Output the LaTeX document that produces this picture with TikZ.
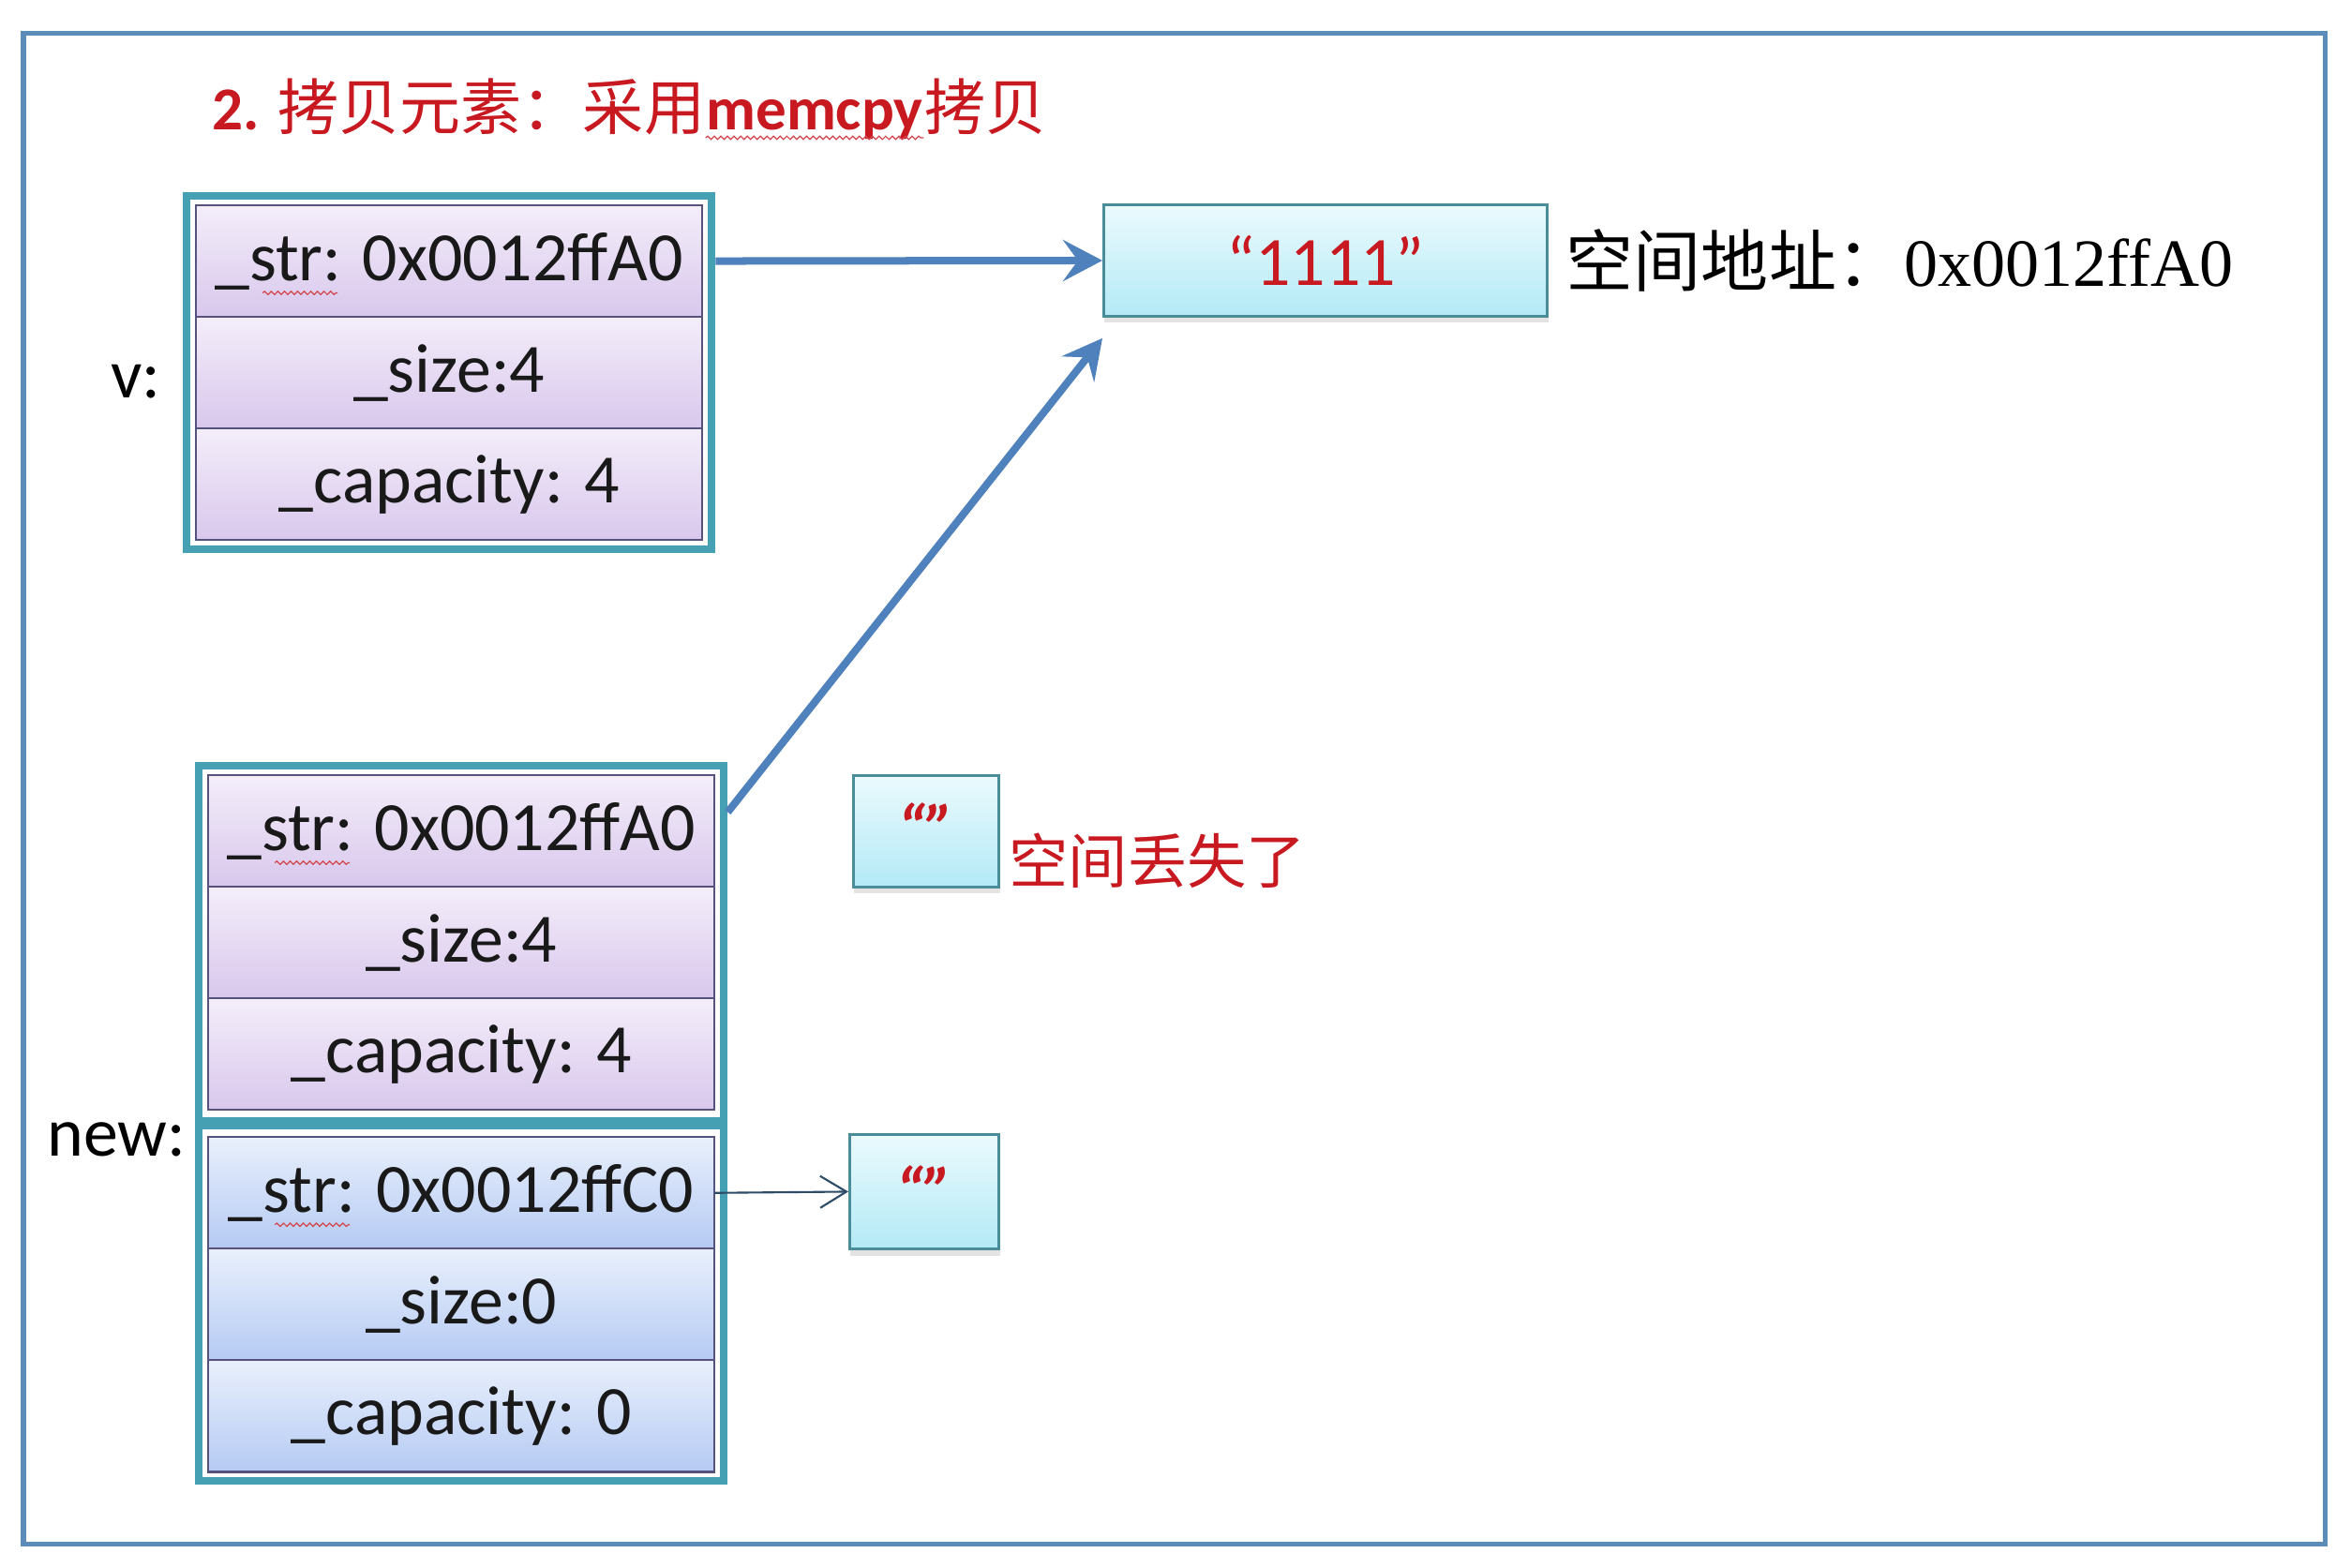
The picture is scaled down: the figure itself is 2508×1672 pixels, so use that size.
\documentclass[tikz,border=0pt]{standalone}
\usepackage{fontspec}
\setmainfont{Carlito}
\newfontfamily\cjk{Noto Sans CJK SC}
\newfontfamily\addrlatin{Liberation Serif}
\usetikzlibrary{arrows.meta, positioning, calc, fit, shadows, decorations.pathmorphing}
\definecolor{framebl}{HTML}{5B8DB8}
\definecolor{tealedge}{HTML}{45A0B4}
\definecolor{rowedge}{HTML}{55527E}
\definecolor{lavtop}{HTML}{F4EEFA}
\definecolor{lavbot}{HTML}{D8C7EC}
\definecolor{blutop}{HTML}{E9F0FC}
\definecolor{blubot}{HTML}{B5CAF3}
\definecolor{cyantop}{HTML}{EBFAFD}
\definecolor{cyanbot}{HTML}{B3EAF6}
\definecolor{cyanedge}{HTML}{4A8C98}
\definecolor{ptrblue}{HTML}{4F81BD}
\definecolor{ptrdark}{HTML}{2E4B68}
\definecolor{txtred}{HTML}{C81820}

\begin{document}
\begin{tikzpicture}[
  x=0.01cm, y=-0.01cm,
  field/.style={draw=rowedge, line width=0.6pt, top color=#1top, bottom color=#1bot,
    minimum width=5.40cm, minimum height=1.19cm, inner sep=0pt, outer sep=0pt,
    font=\fontsize{21}{25}\selectfont, text=black!90},
  field/.default=lav,
  holder/.style={draw=tealedge, line width=0.08cm, inner sep=0.1cm},
  buffer/.style={draw=cyanedge, line width=0.8pt, top color=cyantop, bottom color=cyanbot,
    inner sep=0pt, drop shadow={shadow xshift=0.01cm, shadow yshift=-0.07cm, opacity=0.22}},
  ptr/.style={draw=ptrblue, line width=0.08cm,
    -{Stealth[length=0.42cm, width=0.44cm, inset=0.16cm]}},
  thinptr/.style={draw=ptrdark, line width=0.6pt,
    -{Straight Barb[length=0.28cm, width=0.34cm]}},
  tag/.style={font=\fontsize{21}{25}\selectfont, inner sep=0pt},
  title/.style={font=\fontsize{18.5}{22}\selectfont, text=txtred, inner sep=0pt},
  addr/.style={font=\fontsize{20.5}{24}\selectfont\addrlatin, inner sep=0pt},
  note/.style={font=\fontsize{18}{22}\selectfont\cjk, text=txtred, inner sep=0pt},
  quote/.style={font=\fontsize{20}{24}\selectfont\bfseries\itshape, text=txtred, inner sep=0pt},
  squiggle/.style={draw=txtred!80, line width=0.35pt, decorate,
    decoration={snake, amplitude=0.5pt, segment length=2pt}},
]

% Page and outer frame
\useasboundingbox (0,0) rectangle (2508,1672);
\draw[framebl, line width=0.05cm, fill=white] (25,35) rectangle (2480,1647);

% Title
\node[title, anchor=base west] (title) at (226,138) {{\bfseries 2.} {\cjk 拷贝元素：采用}};
\node[title, anchor=base west, font=\fontsize{18.5}{22}\selectfont\bfseries] (memcpy)
  at (title.base east) {memcpy};
\node[title, anchor=base west] (title end) at (memcpy.base east) {\cjk 拷贝};
\draw[squiggle] ($(memcpy.base west)+(0,9)$) -- ($(memcpy.base east)+(0,9)$);

% ============================================================
% Object v
% ============================================================
\node[field, anchor=north west] (vstr) at (209,219) {\_str: 0x0012ffA0};
\node[field, below=0pt of vstr] (vsize) {\_size:4};
\node[field, below=0pt of vsize] (vcap) {\_capacity: 4};
\node[holder, fit=(vstr)(vcap)] (vbox) {};
\node[tag, anchor=east] (vtag) at (172,407) {v:};

% ============================================================
% Object new (copied fields, then its own fields)
% ============================================================
\node[field, anchor=north west] (nstr) at (222,827) {\_str: 0x0012ffA0};
\node[field, below=0pt of nstr] (nsize) {\_size:4};
\node[field, below=0pt of nsize] (ncap) {\_capacity: 4};
\node[field=blu, below=0.29cm of ncap] (bstr) {\_str: 0x0012ffC0};
\node[field=blu, below=0pt of bstr] (bsize) {\_size:0};
\node[field=blu, below=0pt of bsize] (bcap) {\_capacity: 0};
\node[holder, fit=(nstr)(bcap)] (nbox) {};
\coordinate (nsplit) at ($(ncap.south)!0.5!(bstr.north)$);
\draw[tealedge, line width=0.13cm] (nsplit -| nbox.west) -- (nsplit -| nbox.east);
\node[tag, anchor=east] (ntag) at (199,1216) {new:};

% spell-check marks under _str
\foreach \r in {vstr, nstr, bstr}
  \draw[squiggle] ($(\r.center)+(-199,34)$) -- ++(80,0);

% ============================================================
% Heap buffers
% ============================================================
\node[buffer, minimum width=4.73cm, minimum height=1.19cm, anchor=north west,
  text=txtred, font=\fontsize{21}{25}\selectfont] (strbuf) at (1176,217) {“1111”};
\node[addr, right=0.18cm of strbuf] (addr) {{\cjk 空间地址：}0x0012ffA0};

\node[buffer, minimum width=1.55cm, minimum height=1.19cm, anchor=north west]
  (empty1) at (909,826) {};
\node[quote, anchor=north] (q1) at ([yshift=-0.3cm]empty1.north) {“”};
\node[note, anchor=south west] (lostnote) at ([xshift=0.09cm]empty1.south east) {空间丢失了};

\node[buffer, minimum width=1.59cm, minimum height=1.22cm, anchor=north west]
  (empty2) at (905,1209) {};
\node[quote, anchor=north] (q2) at ([yshift=-0.34cm]empty2.north) {“”};

% ============================================================
% Pointers
% ============================================================
\draw[ptr] (vbox.east |- vstr) -- (strbuf.west);
\coordinate (lostend) at ($(strbuf.south west)+(0,22)$);
\draw[ptr] ($(nbox.east |- nstr)+(0,-20)$) -- (lostend);
\draw[thinptr] (bstr.east) -- (empty2.west);

\end{tikzpicture}
\end{document}
